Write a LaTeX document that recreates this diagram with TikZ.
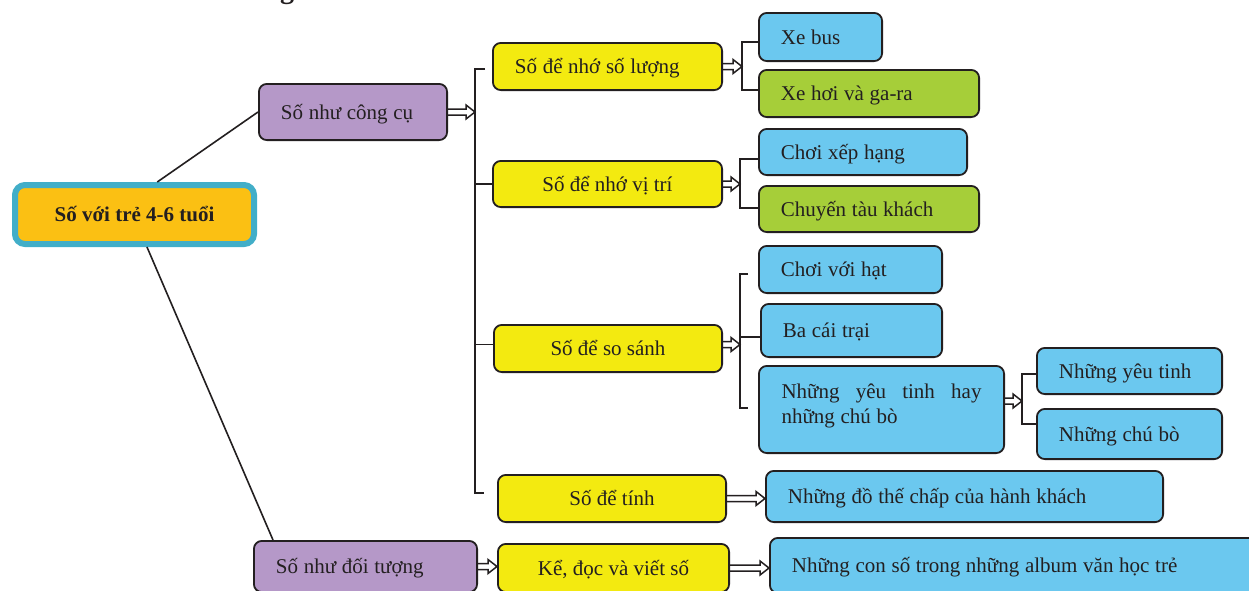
\documentclass[tikz,border=0pt]{standalone}
\usepackage{fontspec}
\setmainfont{Liberation Serif}
\usetikzlibrary{calc}
\definecolor{ink}{HTML}{231F20}
\definecolor{cpurple}{HTML}{B598C8}
\definecolor{cyellow}{HTML}{F3EA10}
\definecolor{cblue}{HTML}{6BC8EF}
\definecolor{cgreen}{HTML}{A6CE39}
\definecolor{corange}{HTML}{FBC013}
\definecolor{ccyan}{HTML}{42AEC8}
\begin{document}
\begin{tikzpicture}[x=1pt,y=-1pt,
  box/.style={draw=ink, line width=1.8pt, rounded corners=8pt, inner sep=0pt,
    font=\fontsize{21}{25}\selectfont, text=ink, text height=18pt, text depth=4pt},
  lbox/.style={box, align=left, inner xsep=22pt,
    execute at begin node={\spaceskip=0.27em\xspaceskip=0.27em\relax}},
  purplebox/.style={fill=cpurple},
  yellowbox/.style={fill=cyellow},
  bluebox/.style={fill=cblue},
  greenbox/.style={fill=cgreen},
  rootbox/.style={draw=ccyan, line width=6pt, fill=corange, rounded corners=10pt,
    inner sep=0pt, font=\bfseries\fontsize{21}{25}\selectfont, text=ink,
    text height=18pt, text depth=4pt},
  conn/.style={draw=ink, line width=1.8pt},
  rootline/.style={draw=ink, line width=1.6pt},
  harrow/.style={draw=ink, line width=1.5pt, line join=miter,
    to path={let \p1=(\tikztostart), \p2=(\tikztotarget) in
      (\x1,\y1+3pt) -- (\x2-9pt,\y1+3pt) -- (\x2-9pt,\y1+7pt) -- (\x2,\y1)
      -- (\x2-9pt,\y1-7pt) -- (\x2-9pt,\y1-3pt) -- (\x1,\y1-3pt)}}
]
\useasboundingbox[fill=white] (0,0) rectangle (1249,590);

% cut-off title letter at the top edge
\node[font=\bfseries\fontsize{28}{30}\selectfont, text=ink, anchor=base, inner sep=0pt] (ttl) at (287,-2) {g};

% root
\node[rootbox, minimum width=239, minimum height=59] (root) at (134.5,214.5) {Số với trẻ 4-6 tuổi};

% level 1
\node[lbox, purplebox, text width=144.2pt, minimum width=188.2, minimum height=56.2] (pc) at (353,112) {Số như công cụ};
\node[lbox, purplebox, text width=179.2pt, minimum width=223.2, minimum height=51.2] (pd) at (365.5,566.5) {Số như đối tượng};

% level 2
\node[lbox, yellowbox, text width=185.2pt, minimum width=229.2, minimum height=47.2] (y1) at (607.5,66.5) {Số để nhớ số lượng};
\node[box, yellowbox, minimum width=229.2, minimum height=46.2] (y2) at (607.5,184) {Số để nhớ vị trí};
\node[box, yellowbox, minimum width=228.2, minimum height=47.2] (y3) at (608,348.5) {Số để so sánh};
\node[box, yellowbox, minimum width=228.2, minimum height=47.2] (y4) at (612,498.5) {Số để tính};
\node[box, yellowbox, minimum width=231.2, minimum height=48.2] (y5) at (613.5,568) {Kể, đọc và viết số};

% level 3
\node[lbox, bluebox, text width=79.2pt, minimum width=123.2, minimum height=48.2] (xb) at (820.5,37) {Xe bus};
\node[lbox, greenbox, text width=176.2pt, minimum width=220.2, minimum height=47.2] (xh) at (869,93.5) {Xe hơi và ga-ra};
\node[lbox, bluebox, text width=164.2pt, minimum width=208.2, minimum height=46.2] (cx) at (863,152) {Chơi xếp hạng};
\node[lbox, greenbox, text width=176.2pt, minimum width=220.2, minimum height=46.2] (ct) at (869,209) {Chuyến tàu khách};
\node[lbox, bluebox, text width=139.2pt, minimum width=183.2, minimum height=47.2] (cv) at (850.5,269.5) {Chơi với hạt};
\node[lbox, bluebox, text width=137.2pt, minimum width=181.2, minimum height=53.2] (bc) at (851.5,330.5) {Ba cái trại};
\node[lbox, bluebox, text width=200pt, inner xsep=22.6pt, text height=8pt, text depth=31pt,
  minimum width=245.2, minimum height=87.2] (yt) at (881.5,409.5)
  {Những\hfill yêu\hfill tinh\hfill hay\\những chú bò};
\node[lbox, bluebox, text width=353.2pt, minimum width=397.2, minimum height=51.2] (dt) at (964.5,496.5) {Những đồ thế chấp của hành khách};
\node[lbox, bluebox, text width=447.2pt, minimum width=491.2, minimum height=55.2] (ns) at (1015.5,565.5) {Những con số trong những album văn học trẻ};

% level 4
\node[lbox, bluebox, text width=141.2pt, minimum width=185.2, minimum height=46.2] (y6) at (1129.5,371) {Những yêu tinh};
\node[lbox, bluebox, text width=141.2pt, minimum width=185.2, minimum height=50.2] (y7) at (1129.5,434) {Những chú bò};

% root connectors
\draw[rootline] (root.55) -- (pc.west);
\draw[rootline] (root.-69) -- ($(pd.north west)+(20,0)$);

% bracket A
\coordinate (aJ) at (475,112);
\coordinate (aT) at (485,69);
\coordinate (aB) at (484,493);
\draw[harrow] (pc.east) to (aJ);
\draw[conn] (aT) -- (aT -| aJ) -- (aB -| aJ) -- (aB);
\draw[conn] (aJ |- y2.west) -- (y2.west);
\draw[conn] ([yshift=4pt]y3.west -| aJ) -- ([yshift=4pt]y3.west);

% bracket B
\coordinate (bJ) at (742,66.5);
\coordinate (bT) at (742,42);
\coordinate (bB) at (742,90);
\draw[harrow] (y1.east) to (bJ);
\draw[conn] (xb.west |- bT) -- (bT) -- (bB) -- (xh.west |- bB);

% bracket C
\coordinate (cJ) at (740,184);
\coordinate (cT) at (740,159);
\coordinate (cB) at (740,208);
\draw[harrow] (y2.east) to (cJ);
\draw[conn] (cx.west |- cT) -- (cT) -- (cB) -- (ct.west |- cB);

% bracket D
\coordinate (dJ) at (740,344.5);
\coordinate (dT) at (748,274);
\coordinate (dB) at (748,408);
\coordinate (dM) at (740,337);
\draw[harrow] ([yshift=4pt]y3.east) to (dJ);
\draw[conn] (dT) -- (dT -| dJ) -- (dB -| dJ) -- (dB);
\draw[conn] (dM) -- (bc.west |- dM);

% bracket E
\coordinate (eJ) at (1022,401);
\coordinate (eT) at (1022,374);
\coordinate (eB) at (1022,424);
\draw[harrow] ([yshift=8.5pt]yt.east) to (eJ);
\draw[conn] (y6.west |- eT) -- (eT) -- (eB) -- (y7.west |- eB);

% direct arrows
\draw[harrow] (y4.east) to (dt.west);
\draw[harrow] (pd.east) to (y5.west);
\draw[harrow] (y5.east) to (ns.west);
\end{tikzpicture}
\end{document}
